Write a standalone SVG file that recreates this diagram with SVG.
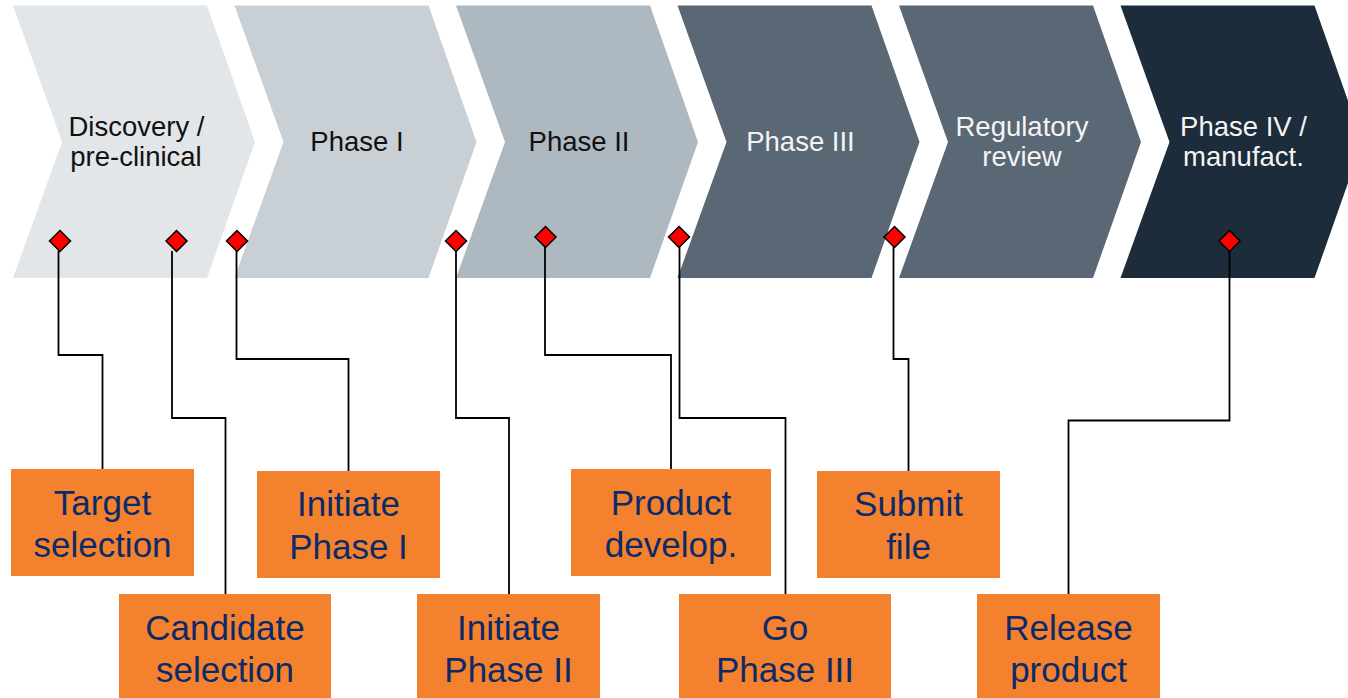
<svg xmlns="http://www.w3.org/2000/svg" xmlns:xlink="http://www.w3.org/1999/xlink" width="1348" height="698" viewBox="0 0 1348 698">
  <style>
    .phase-label { font-family: "Liberation Sans", Arial, sans-serif; font-size: 27.5px; text-anchor: middle; }
    .dark-text { fill: #111111; }
    .light-text { fill: #F4F4F4; }
    .milestone-box { fill: #F3812D; }
    .milestone-label { font-family: "Liberation Sans", Arial, sans-serif; font-size: 35px; fill: #0D2A68; text-anchor: middle; }
    .link { fill: none; stroke: #000000; stroke-width: 1.8; }
    .diamond { fill: #FF0000; stroke: #000000; stroke-width: 1.5; }
  </style>
  <defs>
    <!-- chevron shape anchored at its top-left corner -->
    <polygon id="chevron" points="0,5.5 194,5.5 242,142 194,278 0,278 49,142"/>
    <polygon id="diamond" class="diamond" points="0,-10.5 10.5,0 0,10.5 -10.5,0"/>
  </defs>

  <rect width="1348" height="698" fill="#FFFFFF"/>

  <!-- process chevrons -->
  <g id="phase-discovery">
    <use xlink:href="#chevron" x="13" fill="#E3E6E9"/>
    <text class="phase-label dark-text" x="136.5" y="136">Discovery /</text>
    <text class="phase-label dark-text" x="136" y="166">pre-clinical</text>
  </g>
  <g id="phase-1">
    <use xlink:href="#chevron" x="234.5" fill="#C8CFD5"/>
    <text class="phase-label dark-text" x="357" y="151">Phase I</text>
  </g>
  <g id="phase-2">
    <use xlink:href="#chevron" x="456" fill="#ADB8C1"/>
    <text class="phase-label dark-text" x="579" y="151">Phase II</text>
  </g>
  <g id="phase-3">
    <use xlink:href="#chevron" x="677.5" fill="#5A6774"/>
    <text class="phase-label light-text" x="800.5" y="151">Phase III</text>
  </g>
  <g id="phase-review">
    <use xlink:href="#chevron" x="899" fill="#5A6774"/>
    <text class="phase-label light-text" x="1022" y="136">Regulatory</text>
    <text class="phase-label light-text" x="1022" y="166">review</text>
  </g>
  <g id="phase-4">
    <use xlink:href="#chevron" x="1120.5" fill="#1C2C3A"/>
    <text class="phase-label light-text" x="1243.5" y="136">Phase IV /</text>
    <text class="phase-label light-text" x="1243.5" y="166">manufact.</text>
  </g>

  <!-- elbow connectors from milestones to their labels -->
  <g id="connectors">
    <polyline class="link" points="58.5,251 58.5,355 102.5,355 102.5,469"/>
    <polyline class="link" points="172,251 172,418 225.5,418 225.5,594"/>
    <polyline class="link" points="236.5,251 236.5,359 348.5,359 348.5,471"/>
    <polyline class="link" points="456,251 456,418 509,418 509,594"/>
    <polyline class="link" points="545,247 545,355 671,355 671,469"/>
    <polyline class="link" points="679.5,247 679.5,418 785.5,418 785.5,594"/>
    <polyline class="link" points="893.5,247 893.5,359 908.5,359 908.5,471"/>
    <polyline class="link" points="1229.5,251 1229.5,420.5 1068.5,420.5 1068.5,594"/>
  </g>

  <!-- milestone markers -->
  <g id="markers">
    <use xlink:href="#diamond" x="60" y="241"/>
    <use xlink:href="#diamond" x="176.5" y="241"/>
    <use xlink:href="#diamond" x="237" y="241"/>
    <use xlink:href="#diamond" x="456" y="241"/>
    <use xlink:href="#diamond" x="545.5" y="237"/>
    <use xlink:href="#diamond" x="679" y="237"/>
    <use xlink:href="#diamond" x="894.5" y="237"/>
    <use xlink:href="#diamond" x="1229.5" y="241"/>
  </g>

  <!-- milestone labels -->
  <g id="target-selection">
    <rect class="milestone-box" x="11" y="469" width="183" height="107"/>
    <text class="milestone-label" x="102.5" y="514.5">Target</text>
    <text class="milestone-label" x="102.5" y="557">selection</text>
  </g>
  <g id="candidate-selection">
    <rect class="milestone-box" x="119" y="594" width="212" height="104"/>
    <text class="milestone-label" x="225" y="639.5">Candidate</text>
    <text class="milestone-label" x="225" y="682">selection</text>
  </g>
  <g id="initiate-phase-1">
    <rect class="milestone-box" x="257" y="471" width="183" height="107"/>
    <text class="milestone-label" x="348.5" y="516">Initiate</text>
    <text class="milestone-label" x="348.5" y="558.5">Phase I</text>
  </g>
  <g id="initiate-phase-2">
    <rect class="milestone-box" x="417" y="594" width="183" height="104"/>
    <text class="milestone-label" x="508.5" y="639.5">Initiate</text>
    <text class="milestone-label" x="508.5" y="682">Phase II</text>
  </g>
  <g id="product-develop">
    <rect class="milestone-box" x="571" y="469" width="200" height="107"/>
    <text class="milestone-label" x="671" y="514.5">Product</text>
    <text class="milestone-label" x="671" y="557">develop.</text>
  </g>
  <g id="go-phase-3">
    <rect class="milestone-box" x="679" y="594" width="212" height="104"/>
    <text class="milestone-label" x="785" y="639.5">Go</text>
    <text class="milestone-label" x="785" y="682">Phase III</text>
  </g>
  <g id="submit-file">
    <rect class="milestone-box" x="817" y="471" width="183" height="107"/>
    <text class="milestone-label" x="908.5" y="516">Submit</text>
    <text class="milestone-label" x="908.5" y="558.5">file</text>
  </g>
  <g id="release-product">
    <rect class="milestone-box" x="977" y="594" width="183" height="104"/>
    <text class="milestone-label" x="1068.5" y="639.5">Release</text>
    <text class="milestone-label" x="1068.5" y="682">product</text>
  </g>
</svg>
